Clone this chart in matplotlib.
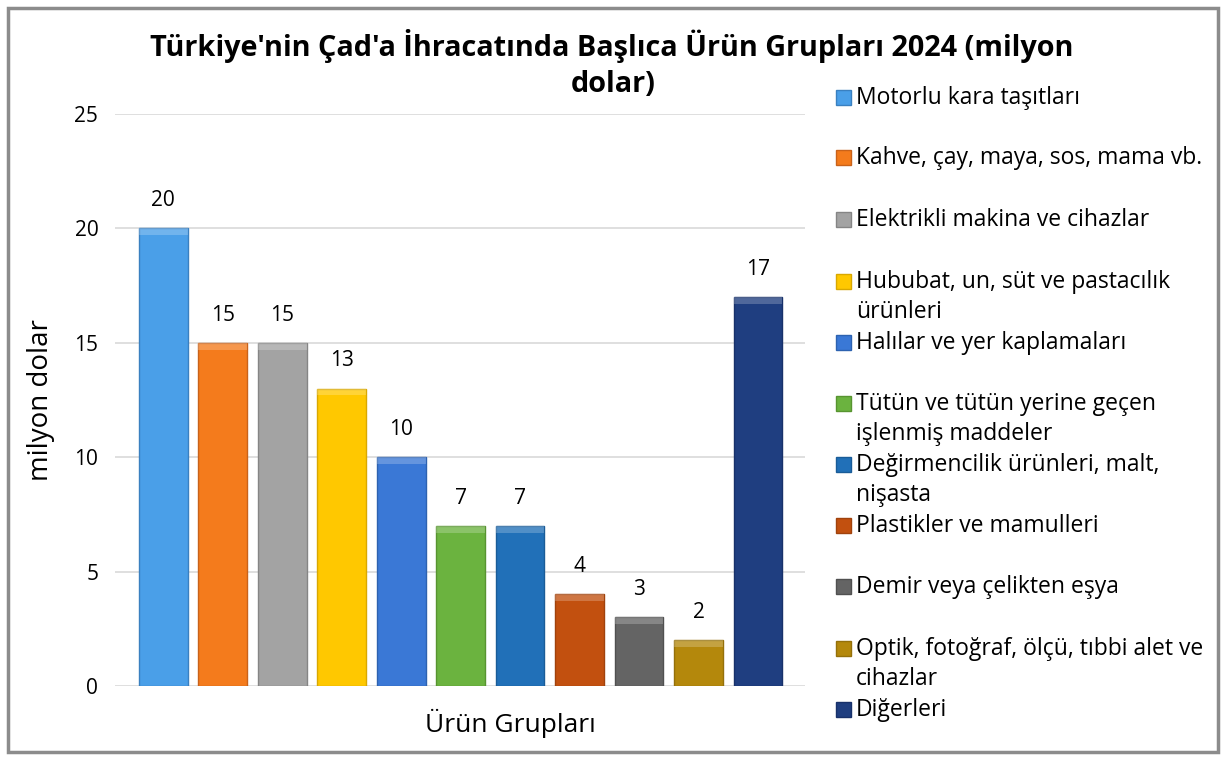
import numpy as np
import matplotlib
matplotlib.use('Agg')
import matplotlib.pyplot as plt
from matplotlib.patches import Rectangle

plt.rcParams['font.family'] = ['Open Sans', 'DejaVu Sans']

categories = ['Motorlu kara taşıtları',
              'Kahve, çay, maya, sos, mama vb.',
              'Elektrikli makina ve cihazlar',
              'Hububat, un, süt ve pastacılık\nürünleri',
              'Halılar ve yer kaplamaları',
              'Tütün ve tütün yerine geçen\nişlenmiş maddeler',
              'Değirmencilik ürünleri, malt,\nnişasta',
              'Plastikler ve mamulleri',
              'Demir veya çelikten eşya',
              'Optik, fotoğraf, ölçü, tıbbi alet ve\ncihazlar',
              'Diğerleri']
values = [20, 15, 15, 13, 10, 7, 7, 4, 3, 2, 17]
colors = ['#4a9fe8', '#f47b1c', '#a3a3a3', '#ffc800', '#3a78d6', '#6bb33f',
          '#2170b8', '#c2500f', '#646464', '#b4880c', '#1f3e80']
edges = ['#3a80c0', '#c9621a', '#858585', '#d9a800', '#2d62b0', '#579430',
         '#1a5c98', '#a0420c', '#505050', '#94700a', '#18316a']

fig = plt.figure(figsize=(12.27, 7.6), dpi=100)
ax = fig.add_axes([115/1227, 1-686/760, 690/1227, 572/760])

x = np.arange(len(values))
ax.bar(x, values, width=0.82, color=colors, edgecolor=edges, linewidth=1.0, zorder=3)
# lighter bevel strip on top of each bar
for i, v in enumerate(values):
    ax.bar(i, 0.3, bottom=v - 0.3, width=0.82, color='white', alpha=0.22, zorder=4, linewidth=0)
    ax.text(i, v + 0.75, str(v), ha='center', va='bottom', fontsize=15)

ax.set_xlim(-0.81, 10.79)
ax.set_ylim(0, 25)
ax.set_yticks([0, 5, 10, 15, 20, 25])
ax.set_xticks([])
ax.grid(axis='y', color='#d9d9d9', linewidth=1.2, zorder=0)
for s in ax.spines.values():
    s.set_visible(False)
ax.tick_params(axis='y', length=0, labelsize=15, pad=12)
ax.set_ylabel('milyon dolar', fontsize=20, labelpad=14)

fig.text(510/1227, 1-723/760, 'Ürün Grupları', ha='center', va='center', fontsize=19)
fig.text(612/1227, 1-46/760, "Türkiye'nin Çad'a İhracatında Başlıca Ürün Grupları 2024 (milyon",
         ha='center', va='center', fontsize=20.8, fontweight='bold')
fig.text(613/1227, 1-85/760, 'dolar)', ha='center', va='center', fontsize=20.8, fontweight='bold')

# legend drawn by hand
ytop = [97, 157, 219, 281, 342, 403, 464, 525, 586, 648, 709]
for label, c, e, yy in zip(categories, colors, edges, ytop):
    fig.patches.append(Rectangle((836/1227, 1-(yy+8)/760), 15/1227, 15/760,
                                 transform=fig.transFigure, facecolor=c, edgecolor=e, linewidth=1))
    for k, line in enumerate(label.split('\n')):
        fig.text(856/1227, 1-(yy+7+30*k)/760, line, ha='left', va='baseline', fontsize=16.5)

fig.patches.append(Rectangle((8/1227, 8/760), 1210/1227, 744/760, transform=fig.transFigure,
                             facecolor='none', edgecolor='#8c8c8c', linewidth=2.5))

fig.savefig('out.png', dpi=100)
